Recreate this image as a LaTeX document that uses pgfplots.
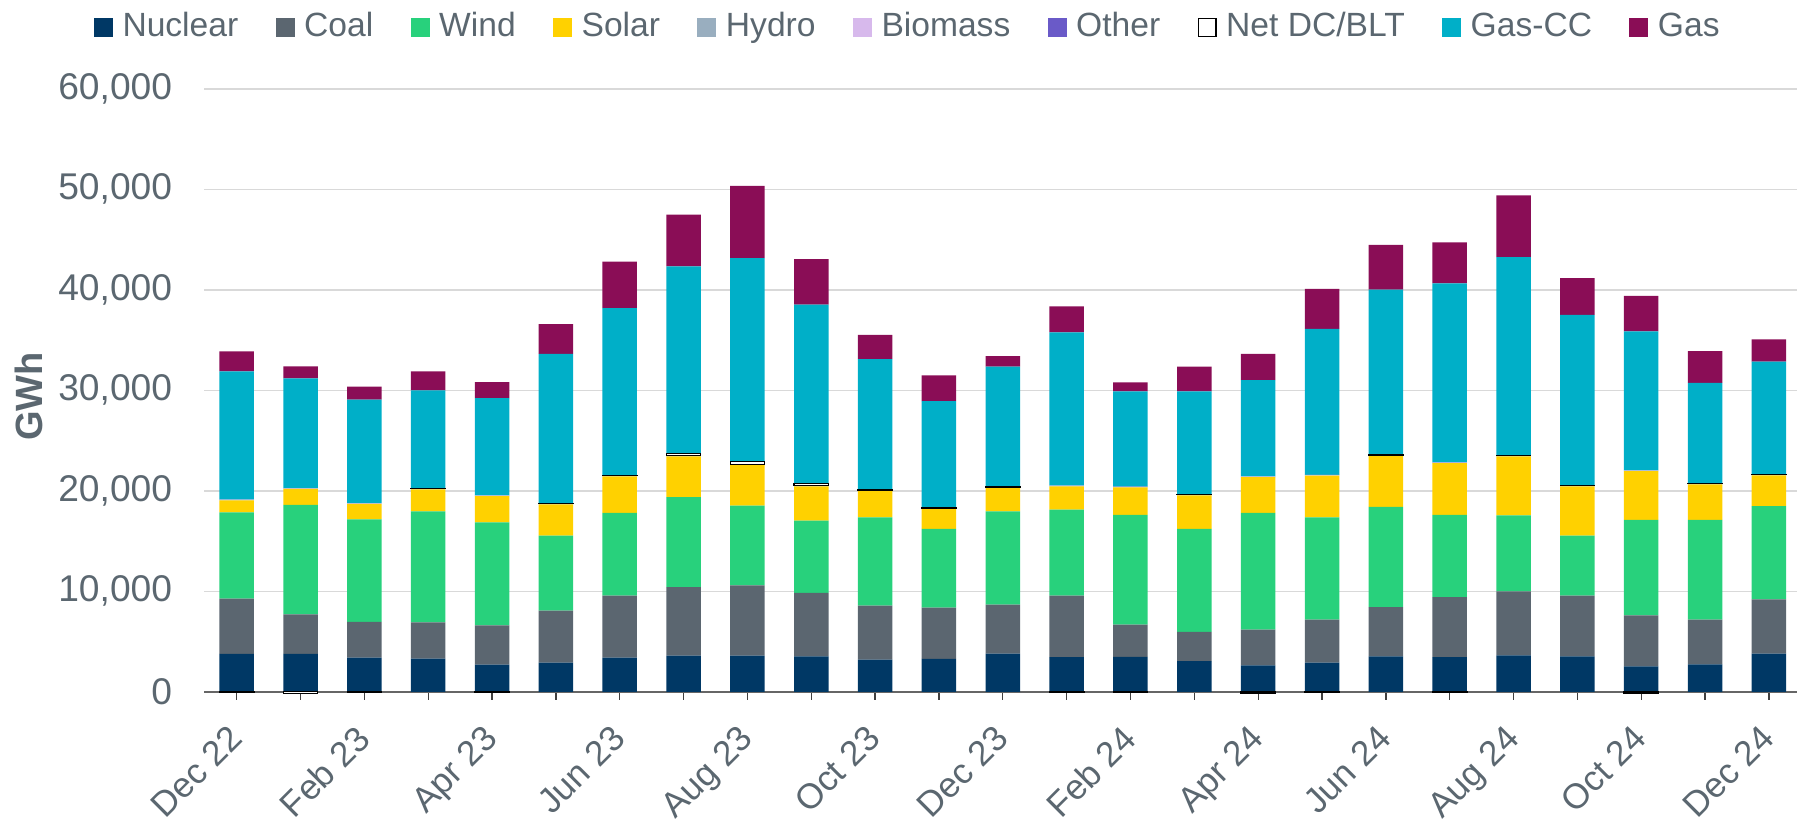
\documentclass[border=0pt]{standalone}
\usepackage{fontspec}
\setmainfont{Liberation Sans}
\usepackage{pgfplots}
\usepackage{pgfplotstable}
\pgfplotsset{compat=1.18}

\definecolor{cnuc}{HTML}{003865}
\definecolor{ccoal}{HTML}{5B6670}
\definecolor{cwind}{HTML}{28D17C}
\definecolor{csolar}{HTML}{FFD100}
\definecolor{chydro}{HTML}{99AEBF}
\definecolor{cbio}{HTML}{D7B9EC}
\definecolor{cother}{HTML}{6A5AC8}
\definecolor{cgascc}{HTML}{00AFC8}
\definecolor{cgas}{HTML}{8A0D56}
\definecolor{txtgrey}{HTML}{5B6770}
\definecolor{gridgrey}{HTML}{D9D9D9}
\definecolor{axisgrey}{HTML}{666666}
\definecolor{tickgrey}{HTML}{404040}

% GWh by month (Dec 22 = 0 ... Dec 24 = 24)
\pgfplotstableread{
x  nuc  coal wind  solar hydro bio other net gascc gas
0  3767 5509 8565  1208  40 30 10 0   12759 1991
1  3767 3945 10875 1600  40 30 10 0   10911 1208
2  3412 3554 10200 1528  40 30 10 0   10307 1279
3  3305 3590 11053 2203  40 30 10 30  9738  1884
4  2701 3909 10236 2630  40 30 10 0   9667  1599
5  2914 5154 7463  3128  40 30 10 30  14855 2950
6  3412 6148 8246  3625  40 30 10 30  16632 4621
7  3590 6823 8956  4052  40 30 10 213 18623 5153
8  3590 7001 7925  4052  40 30 10 284 20222 7180
9  3518 6327 7179  3412  40 30 10 177 17841 4514
10 3199 5366 8779  2665  40 30 10 30  12972 2417
11 3270 5117 7819  1990  40 30 10 30  10627 2559
12 3803 4869 9276  2345  40 30 10 30  11942 1066
13 3447 6113 8565  2311  40 30 10 0   15246 2595
14 3483 3199 10910 2737  40 30 10 0   9489  889
15 3056 2915 10235 3341  40 30 10 30  10236 2452
16 2630 3554 11622 3554  40 30 10 0   9560  2630
17 2914 4265 10165 4158  40 30 10 0   14536 3980
18 3518 4905 9987  5046  40 30 10 100 16391 4443
19 3447 5971 8174  5153  40 30 10 0   17806 4088
20 3625 6362 7570  5864  40 30 10 30  19725 6148
21 3518 6042 5971  4905  40 30 10 30  16952 3661
22 2523 5082 9490  4869  40 30 10 0   13825 3518
23 2737 4442 9916  3554  40 30 10 30  9986  3164
24 3803 5402 9269  3064  40 30 10 30  11194 2234
}\gendata

% Net DC/BLT outlines: base = stack below it, net = its value
\pgfplotstableread{
x  base  net
0  0     -60
1  0     -150
2  0     -80
3  20231 30
4  0     -100
5  18739 30
6  21511 30
7  23501 213
8  22648 284
9  20516 177
10 20089 30
11 18276 30
12 20373 30
13 0     -100
14 0     -80
15 19627 30
16 0     -120
17 0     -100
18 23536 100
19 0     -100
20 23501 30
21 20516 30
22 0     -120
23 20729 30
24 21618 30
}\netdata

\pgfplotsset{
  mybase/.style={
    width=796.25pt, height=301.5pt, scale only axis,
    xmin=-0.504, xmax=24.44, ymin=0, ymax=60000,
    ybar stacked, bar width=17.25pt,
  },
  sq/.style={legend image code/.code={\fill[##1] (0pt,-5.5pt) rectangle (9.5pt,4pt);}},
}

\begin{document}
\begin{tikzpicture}
\begin{axis}[mybase,
  axis x line*=bottom, axis y line*=left,
  y axis line style={draw=none},
  x axis line style={-, draw=axisgrey, line width=0.9pt},
  ymajorgrids, major grid style={draw=gridgrey, line width=0.75pt},
  ytick={0,10000,20000,30000,40000,50000,60000},
  scaled y ticks=false,
  /pgf/number format/1000 sep={,},
  /pgf/number format/assume math mode=true,
  ytick style={draw=none},
  yticklabel style={font=\fontsize{18.6pt}{22pt}\selectfont, text=txtgrey, inner sep=0pt, anchor=east},
  yticklabel shift=16pt,
  xtick={0,2,...,24},
  minor xtick={1,3,...,23},
  xticklabels={Dec 22,Feb 23,Apr 23,Jun 23,Aug 23,Oct 23,Dec 23,Feb 24,Apr 24,Jun 24,Aug 24,Oct 24,Dec 24},
  xtick align=outside, major tick length=4pt, minor tick length=4pt,
  xtick style={draw=tickgrey, line width=0.65pt},
  minor x tick style={draw=tickgrey, line width=0.65pt},
  xticklabel style={xshift=-5pt, font=\fontsize{17.6pt}{21pt}\selectfont, text=txtgrey, inner sep=0pt, rotate=45, anchor=north east},
  xticklabel shift=11.6pt,
  ylabel={GWh},
  every axis y label/.style={at={(axis description cs:-0.1102,0.490)}, rotate=90, anchor=center,
     font=\fontsize{19pt}{22pt}\selectfont\bfseries, text=txtgrey},
  legend columns=-1,
  legend style={draw=none, fill=none, at={(0.441,1.104)}, anchor=center,
     font=\fontsize{16.8pt}{20pt}\selectfont, text=txtgrey,
     nodes={inner sep=0pt},
     /tikz/every odd column/.append style={column sep=4.75pt},
     /tikz/every even column/.append style={column sep=18.7pt}},
]
\addplot[fill=cnuc, draw=none, sq] table[x=x,y=nuc]{\gendata};
\addplot[fill=ccoal, draw=none, sq] table[x=x,y=coal]{\gendata};
\addplot[fill=cwind, draw=none, sq] table[x=x,y=wind]{\gendata};
\addplot[fill=csolar, draw=none, sq] table[x=x,y=solar]{\gendata};
\addplot[fill=chydro, draw=none, sq] table[x=x,y=hydro]{\gendata};
\addplot[fill=cbio, draw=none, sq] table[x=x,y=bio]{\gendata};
\addplot[fill=cother, draw=none, sq] table[x=x,y=other]{\gendata};
\addplot[fill=white, draw=none,
  legend image code/.code={\draw[fill=white, draw=black, line width=0.6pt] (0.3pt,-5.2pt) rectangle (9.2pt,3.7pt);}]
  table[x=x,y=net]{\gendata};
\addplot[fill=cgascc, draw=none, sq] table[x=x,y=gascc]{\gendata};
\addplot[fill=cgas, draw=none, sq] table[x=x,y=gas]{\gendata};
\legend{Nuclear,Coal,Wind,Solar,Hydro,Biomass,Other,Net DC/BLT,Gas-CC,Gas}
\end{axis}
\begin{axis}[mybase, hide axis, clip=false]
\addplot[draw=none, fill=none] table[x=x,y=base]{\netdata};
\addplot[fill=white, draw=black, line width=0.6pt] table[x=x,y=net]{\netdata};
\end{axis}
\pgfresetboundingbox
\path[use as bounding box] (-102.25pt,-65.1pt) rectangle (796.25pt,345.9pt);
\end{tikzpicture}
\end{document}
